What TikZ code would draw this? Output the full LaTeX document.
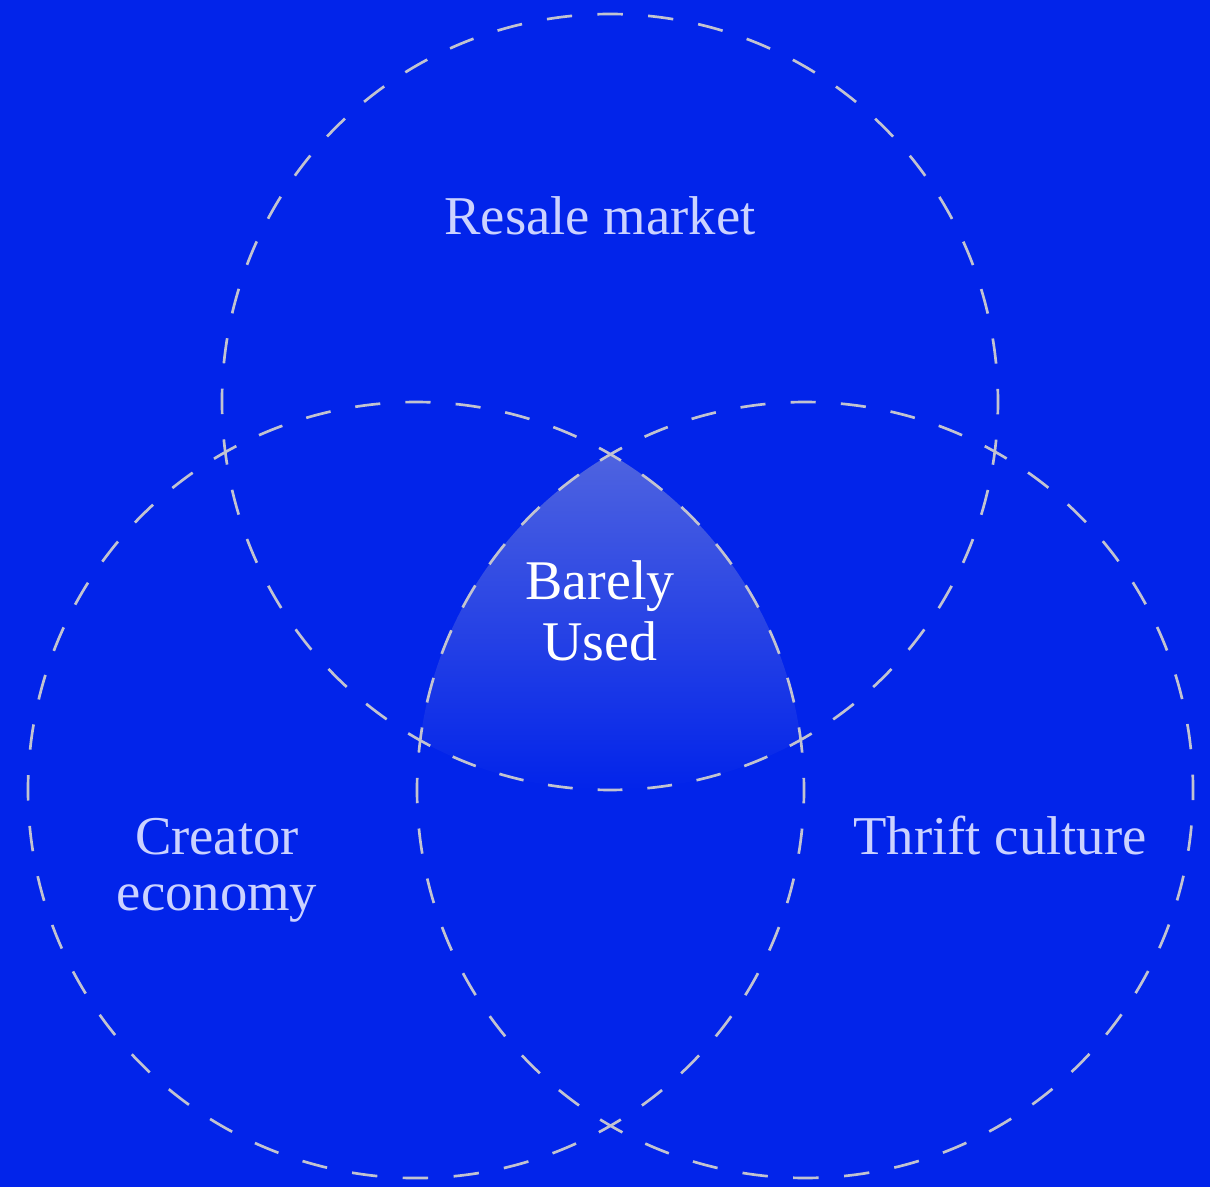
\documentclass[tikz,border=0pt]{standalone}
\usepackage{fontspec}
\setmainfont{Liberation Serif}
\definecolor{vennblue}{HTML}{0224EA}
\definecolor{venndash}{HTML}{C2C3D0}
\definecolor{vennlabel}{HTML}{CBD2FF}

\begin{document}
\begin{tikzpicture}[x=0.75pt, y=-0.75pt,
  ring/.style={draw=venndash, line width=2pt},
  setname/.style={text=vennlabel, font=\fontsize{41}{42}\selectfont, align=center, anchor=base, inner sep=0pt},
  corename/.style={text=white, font=\fontsize{42}{45.75}\selectfont, align=center, anchor=base, inner sep=0pt}]
  \fill[vennblue] (0,0) rectangle (1210,1187);
  \useasboundingbox (0,0) rectangle (1210,1187);
  % centres of the three sets
  \coordinate (cResale) at (610,402);
  \coordinate (cCreator) at (416,790);
  \coordinate (cThrift) at (805,790);
  % shared part
  \begin{scope}
    \clip (cResale) circle[radius=388];
    \clip (cCreator) circle[radius=388];
    \clip (cThrift) circle[radius=388];
    \shade[top color=venndash!40!vennblue, bottom color=vennblue] (400,452) rectangle (820,790);
  \end{scope}
  % rings, drawn crossing to crossing so a dash sits on every crossing
  \draw[ring, dash pattern=on 19.29pt off 19.29pt, dash phase=9.64pt] (cResale) ++(7.4:388) arc[start angle=7.4, end angle=60.56, radius=388];
  \draw[ring, dash pattern=on 18.69pt off 18.69pt, dash phase=9.35pt] (cResale) ++(60.56:388) arc[start angle=60.56, end angle=119.44, radius=388];
  \draw[ring, dash pattern=on 19.29pt off 19.29pt, dash phase=9.64pt] (cResale) ++(119.44:388) arc[start angle=119.44, end angle=172.6, radius=388];
  \draw[ring, dash pattern=on 19.03pt off 19.03pt, dash phase=9.51pt] (cResale) ++(172.6:388) arc[start angle=172.6, end angle=367.4, radius=388];
  \draw[ring, dash pattern=on 19.10pt off 19.10pt, dash phase=9.55pt] (cCreator) ++(60:388) arc[start angle=60, end angle=240.56, radius=388];
  \draw[ring, dash pattern=on 18.87pt off 18.87pt, dash phase=9.43pt] (cCreator) ++(240.56:388) arc[start angle=240.56, end angle=300, radius=388];
  \draw[ring, dash pattern=on 19.08pt off 19.08pt, dash phase=9.54pt] (cCreator) ++(300:388) arc[start angle=300, end angle=352.6, radius=388];
  \draw[ring, dash pattern=on 19.02pt off 19.02pt, dash phase=9.51pt] (cCreator) ++(352.6:388) arc[start angle=352.6, end angle=420, radius=388];
  \draw[ring, dash pattern=on 19.02pt off 19.02pt, dash phase=9.51pt] (cThrift) ++(120:388) arc[start angle=120, end angle=187.4, radius=388];
  \draw[ring, dash pattern=on 19.08pt off 19.08pt, dash phase=9.54pt] (cThrift) ++(187.4:388) arc[start angle=187.4, end angle=240, radius=388];
  \draw[ring, dash pattern=on 18.87pt off 18.87pt, dash phase=9.43pt] (cThrift) ++(240:388) arc[start angle=240, end angle=299.44, radius=388];
  \draw[ring, dash pattern=on 19.10pt off 19.10pt, dash phase=9.55pt] (cThrift) ++(299.44:388) arc[start angle=299.44, end angle=480, radius=388];
  \node[setname] (resale) at (600,235) {Resale market};
  \node[corename] (barely) at (600,660) {Barely\\Used};
  \node[setname] (creator) at (217,910) {Creator\\economy};
  \node[setname] (thrift) at (1000,854) {Thrift culture};
\end{tikzpicture}
\end{document}
